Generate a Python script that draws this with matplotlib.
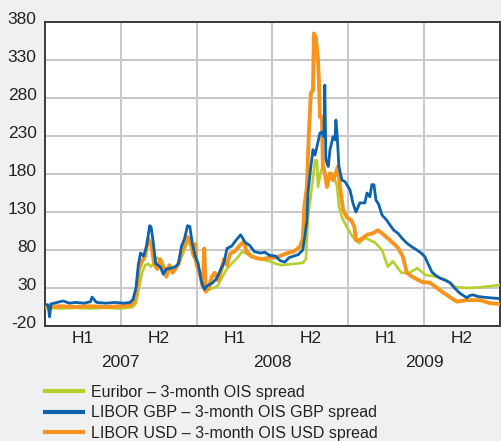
import numpy as np
import matplotlib
matplotlib.use("Agg")
import matplotlib.pyplot as plt
import matplotlib.transforms as mtransforms

# decimal-year positions and spread values (basis points)
eur_t = [2007.00, 2007.10, 2007.20, 2007.30, 2007.40, 2007.50, 2007.58, 2007.60, 2007.62, 2007.64,
         2007.66, 2007.68, 2007.70, 2007.72, 2007.74, 2007.76, 2007.78, 2007.80, 2007.84, 2007.88,
         2007.91, 2007.93, 2007.95, 2007.97, 2007.99, 2008.02, 2008.05, 2008.08, 2008.11, 2008.14,
         2008.17, 2008.20, 2008.23, 2008.27, 2008.30, 2008.33, 2008.37, 2008.42, 2008.47, 2008.52,
         2008.56, 2008.60, 2008.65, 2008.70, 2008.72, 2008.734, 2008.76, 2008.78, 2008.793, 2008.80,
         2008.82, 2008.839, 2008.852, 2008.865, 2008.879, 2008.899, 2008.912, 2008.925, 2008.938, 2008.958,
         2008.99, 2009.03, 2009.07, 2009.11, 2009.142, 2009.175, 2009.222, 2009.26, 2009.294, 2009.35,
         2009.40, 2009.455, 2009.51, 2009.58, 2009.64, 2009.71, 2009.79, 2009.88, 2010.00]
eur_v = [4, 3, 4, 3, 4, 3, 5, 10, 30, 50,
         60, 62, 58, 63, 70, 66, 58, 55, 56, 60,
         75, 85, 92, 80, 66, 50, 36, 28, 30, 33,
         45, 55, 62, 70, 78, 75, 70, 68, 66, 62,
         60, 61, 62, 63, 68, 123, 163, 198, 198, 163,
         185, 190, 172, 168, 179, 181, 172, 165, 137, 123,
         110, 97, 89, 96, 93, 90, 80, 58, 65, 50,
         50, 56, 47, 45, 41, 31, 30, 31, 34]

gbp_t = [2007.00, 2007.02, 2007.03, 2007.04, 2007.08, 2007.12, 2007.16, 2007.20, 2007.26, 2007.30,
         2007.31, 2007.34, 2007.40, 2007.46, 2007.52, 2007.56, 2007.58, 2007.60, 2007.615, 2007.63,
         2007.65, 2007.67, 2007.69, 2007.70, 2007.715, 2007.73, 2007.76, 2007.78, 2007.80, 2007.83,
         2007.86, 2007.88, 2007.90, 2007.92, 2007.94, 2007.955, 2007.97, 2007.99, 2008.01, 2008.03,
         2008.05, 2008.07, 2008.10, 2008.13, 2008.16, 2008.18, 2008.20, 2008.23, 2008.26, 2008.29,
         2008.32, 2008.35, 2008.38, 2008.42, 2008.45, 2008.48, 2008.52, 2008.55, 2008.58, 2008.61,
         2008.64, 2008.67, 2008.70, 2008.715, 2008.727, 2008.734, 2008.75, 2008.767, 2008.78, 2008.793,
         2008.813, 2008.826, 2008.839, 2008.845, 2008.852, 2008.859, 2008.868, 2008.879, 2008.899, 2008.912,
         2008.918, 2008.925, 2008.938, 2008.958, 2008.978, 2009.011, 2009.030, 2009.050, 2009.076, 2009.109,
         2009.123, 2009.142, 2009.155, 2009.169, 2009.182, 2009.20, 2009.222, 2009.254, 2009.274, 2009.30,
         2009.327, 2009.356, 2009.386, 2009.42, 2009.452, 2009.48, 2009.505, 2009.53, 2009.551, 2009.58,
         2009.604, 2009.64, 2009.67, 2009.70, 2009.736, 2009.782, 2009.80, 2009.821, 2009.85, 2009.887,
         2009.94, 2010.00]
gbp_v = [8, 8, -8, 9, 11, 13, 10, 11, 10, 12,
         18, 11, 10, 11, 10, 11, 15, 30, 60, 76,
         72, 85, 112, 110, 88, 62, 58, 48, 55, 56,
         58, 62, 85, 95, 112, 111, 90, 72, 62, 40,
         28, 33, 36, 42, 55, 63, 82, 85, 93, 100,
         90, 86, 78, 76, 77, 73, 72, 66, 64, 70,
         72, 74, 80, 100, 119, 155, 185, 212, 205, 216,
         234, 235, 229, 297, 200, 194, 190, 212, 229, 225,
         251, 235, 190, 172, 170, 159, 142, 130, 142, 142,
         155, 150, 166, 166, 146, 140, 126, 119, 113, 106,
         102, 95, 89, 84, 80, 76, 71, 60, 51, 46,
         43, 40, 37, 30, 23, 17, 20, 21, 19, 18,
         17, 16]

usd_t = [2007.00, 2007.10, 2007.20, 2007.30, 2007.40, 2007.50, 2007.56, 2007.58, 2007.60, 2007.62,
         2007.64, 2007.66, 2007.68, 2007.70, 2007.72, 2007.74, 2007.76, 2007.78, 2007.80, 2007.82,
         2007.84, 2007.86, 2007.88, 2007.90, 2007.92, 2007.94, 2007.96, 2007.98, 2007.99, 2008.00,
         2008.02, 2008.04, 2008.05, 2008.06, 2008.08, 2008.10, 2008.12, 2008.14, 2008.16, 2008.18,
         2008.20, 2008.22, 2008.25, 2008.28, 2008.31, 2008.33, 2008.36, 2008.40, 2008.44, 2008.48,
         2008.52, 2008.56, 2008.60, 2008.64, 2008.68, 2008.70, 2008.71, 2008.727, 2008.74, 2008.753,
         2008.767, 2008.773, 2008.786, 2008.80, 2008.806, 2008.813, 2008.826, 2008.832, 2008.845, 2008.859,
         2008.879, 2008.899, 2008.918, 2008.932, 2008.945, 2008.965, 2008.99, 2009.02, 2009.04, 2009.05,
         2009.076, 2009.123, 2009.162, 2009.195, 2009.222, 2009.274, 2009.327, 2009.36, 2009.386, 2009.42,
         2009.485, 2009.538, 2009.604, 2009.67, 2009.716, 2009.782, 2009.87, 2009.934, 2010.00]
usd_v = [5, 6, 5, 6, 5, 6, 7, 10, 22, 55,
         65, 72, 95, 88, 62, 55, 68, 58, 45, 60,
         50, 55, 62, 78, 88, 97, 90, 72, 88, 60,
         50, 32, 82, 25, 30, 45, 50, 40, 52, 68,
         60, 75, 78, 85, 91, 78, 72, 69, 68, 70,
         70, 73, 76, 78, 84, 95, 137, 163, 234, 287,
         290, 365, 360, 330, 304, 255, 255, 190, 181, 163,
         181, 172, 181, 190, 163, 133, 123, 119, 110, 93,
         93, 100, 102, 106, 102, 93, 83, 71, 50, 45,
         38, 37, 27, 18, 12, 14, 14, 10, 9]

labels = ["Euribor \u2013 3-month OIS spread",
          "LIBOR GBP \u2013 3-month OIS GBP spread",
          "LIBOR USD \u2013 3-month OIS USD spread"]
yticks = [-20, 30, 80, 130, 180, 230, 280, 330, 380]
half_labels = ["H1", "H2", "H1", "H2", "H1", "H2"]
years = ["2007", "2008", "2009"]

BG = "#eff0f2"
GREEN = "#b7cf2c"
BLUE = "#0d62ac"
ORANGE = "#f7941e"
TXT = "#222222"

plt.rcParams["font.family"] = ["Liberation Sans", "DejaVu Sans"]

fig = plt.figure(figsize=(5.01, 4.41), dpi=100, facecolor=BG)
ax = fig.add_axes([0.0898, 0.2608, 0.9082, 0.6892])
ax.set_facecolor("white")

l1, = ax.plot(eur_t, eur_v, color=GREEN, lw=1.9, zorder=3)
l3, = ax.plot(usd_t, usd_v, color=ORANGE, lw=2.8, zorder=4)
l2, = ax.plot(gbp_t, gbp_v, color=BLUE, lw=2.0, zorder=5)

ax.set_xlim(2007, 2010)
ax.set_ylim(-20, 380)

ax.set_yticks(yticks)
ax.set_yticklabels([str(v) for v in yticks], fontsize=12.5, color=TXT)
ax.set_xticks([2007.5, 2008, 2008.5, 2009, 2009.5])
ax.set_xticklabels([])
ax.tick_params(axis="both", length=0, pad=6)
# labels sit a few pixels above their grid line
off = mtransforms.ScaledTranslation(0, 4 / 100, fig.dpi_scale_trans)
for lab in ax.get_yticklabels():
    lab.set_transform(lab.get_transform() + off)

ax.grid(True, color="#c8c8c8", lw=1.4, zorder=1)
for sp in ax.spines.values():
    sp.set_color("#3a3a3a")
    sp.set_linewidth(1.4)

for i, h in enumerate(half_labels):
    ax.text(2007.25 + 0.5 * i, -0.042, h, transform=ax.get_xaxis_transform(),
            ha="center", va="center", fontsize=12.5, color=TXT)
for i, y in enumerate(years):
    ax.text(2007.5 + i, -0.12, y, transform=ax.get_xaxis_transform(),
            ha="center", va="center", fontsize=12.5, color=TXT)

fig.legend([l1, l2, l3], labels, loc="upper left", bbox_to_anchor=(0.0898, 0.128),
           frameon=False, fontsize=11.5, handlelength=2.4, handletextpad=0.45,
           labelspacing=0.36, borderaxespad=0, borderpad=0, labelcolor=TXT)
for h in fig.legends[0].get_lines():
    h.set_linewidth(3)

fig.savefig("out.png", dpi=100, facecolor=BG)
